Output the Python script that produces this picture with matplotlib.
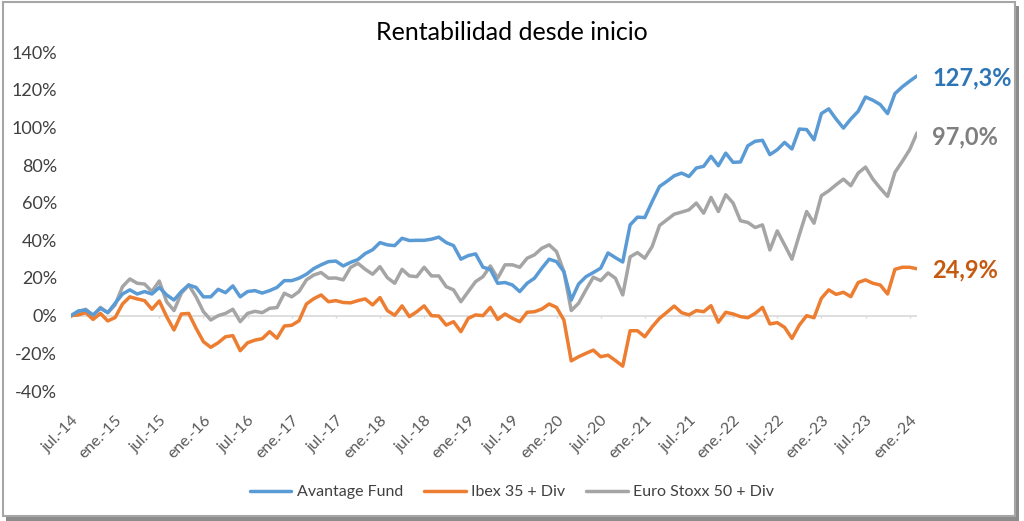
import matplotlib
matplotlib.use("Agg")
import matplotlib.pyplot as plt
from matplotlib.patches import Rectangle
import numpy as np

avantage = [0, 2.5, 3, 0.4, 3.9, 1.6, 6.6, 11.5, 13.7, 11.5, 12.8, 11.5, 15, 11, 8.3, 12.8,
            16.3, 15, 10, 10, 14, 12.2, 15.8, 10, 12.8, 13.3, 12, 13.3, 15, 18.6, 18.6, 19.9,
            22, 25, 27, 28.7, 29, 26.4, 28.3, 29.8,
            33, 35, 38.8, 37.6, 37.2, 41.1, 39.9, 40, 40, 40.6, 41.7, 38.8, 37.2, 30, 31.9, 32.8,
            25.7, 24.6, 17.2, 17.6, 16.3, 12.8, 17.2, 19.9, 25.2, 30, 28.7, 23.4, 8.3, 16.8,
            20.7, 22.9, 25.2, 33.3, 30.8, 28.5,
            48.2, 52.3, 52.1, 60.6, 68.6, 71.3, 74.3, 75.7, 73.9, 78.4, 79.3, 84.6, 79.6, 86.3,
            81.4, 81.6, 90.2, 92.6, 93.1, 85.5, 88.1, 92, 88.5, 99.1, 98.8, 93.4, 107.3, 109.8,
            104.4, 99.6, 104.4, 108.5, 116.1, 114.4, 112.1, 107.3, 117.9, 121.5, 124.5, 127.3]

ibex = [0, 0.4, 1.6, -2, 1.2, -2.8, -1, 6.2, 10, 8.9, 8, 3.4, 7.8, -0.5, -7.6, 0.9,
        1.2, -6.7, -13.8, -16.8, -14.4, -11.2, -10.6, -18.6, -14.4, -13, -12.2, -8.5, -12, -5.5,
        -5.1, -2.7, 6.2, 9, 11, 7.4, 8, 7, 6.8, 8,
        8.9, 5.7, 9.6, 2.7, 0.2, 5.2, -0.5, 2.1, 5.2, 0, -0.2, -5, -3.2, -8.5, -1.4, 0.4,
        0, 4.4, -2, 0.9, -1.4, -3.2, 1.8, 2.1, 3.5, 6.2, 4.4, -2.3, -24, -21.8, -20, -18.3,
        -21.8, -21, -23.8, -26.8,
        -8, -8, -11.2, -5.9, -1.4, 1.8, 5.1, 1.6, 0.4, 2.7, 2.1, 5.3, -3.5, 1.8, 0.9, -0.5,
        -1.1, 1.2, 4.4, -4.4, -3.7, -6.2, -12.1, -5, 0, -1.1, 9.2, 13.7, 11.3, 12.4, 10.1,
        17.6, 19, 17.2, 16.3, 11.5, 24.6, 25.7, 25.7, 24.9]

eurostoxx = [0, 2.1, 3.4, 0, 4.4, 1.6, 5.7, 15.4, 19.5, 17.2, 16.8, 12.8, 18.4, 7.4, 2.7, 11.9,
             16.3, 10, 2.1, -2.3, 0, 1.2, 3.4, -3.2, 1.2, 2.3, 1.6, 3.9, 4.3, 11.9, 10, 12.8,
             19, 21.6, 22.9, 19.9, 20, 19, 25.6, 27.8,
             24.6, 22, 26, 20.2, 17.2, 24.6, 21.1, 20.7, 25.7, 21.1, 21.1, 15.4, 13.7, 7.4, 12.8,
             18.1, 20.7, 26.4, 19.9, 27, 27, 25.7, 30.5, 32.3, 35.8, 37.6, 34, 23.4, 2.7, 6.6,
             13.7, 20.4, 18.6, 22.7, 19.9, 11,
             31.2, 33.5, 30.5, 36.7, 47.9, 50.9, 53.9, 55, 56.2, 59.8, 54.4, 62.8, 55.3, 64.2,
             59.8, 50.4, 49.5, 46.8, 48.2, 34.9, 45, 37.6, 30, 42.9, 55.3, 49.1, 63.7, 66.3,
             69.5, 72.5, 69, 75.7, 78.9, 72.5, 67.7, 63.3, 76.1, 81.9, 88.1, 97.0]

tick_labels = ["jul.-14", "ene.-15", "jul.-15", "ene.-16", "jul.-16", "ene.-17", "jul.-17",
               "ene.-18", "jul.-18", "ene.-19", "jul.-19", "ene.-20", "jul.-20", "ene.-21",
               "jul.-21", "ene.-22", "jul.-22", "ene.-23", "jul.-23", "ene.-24"]
series_names = ["Avantage Fund", "Ibex 35 + Div", "Euro Stoxx 50 + Div"]
end_labels = ["127,3%", "24,9%", "97,0%"]

plt.rcParams['font.family'] = ['Lato', 'DejaVu Sans']

W, H = 1024, 521
fig = plt.figure(figsize=(W / 100, H / 100), dpi=100)
fig.patch.set_facecolor('white')

# frame with shadow
fig.patches.append(Rectangle((6 / W, 0 / H), 1013 / W, 515 / H, transform=fig.transFigure,
                             facecolor='#8c8c8c', edgecolor='none', zorder=0))
fig.patches.append(Rectangle((3 / W, 5 / H), 1012 / W, 514 / H, transform=fig.transFigure,
                             facecolor='white', edgecolor='#a6a6a6', lw=1.5, zorder=1))

ax = fig.add_axes([71 / W, (H - 391) / H, (917 - 71) / W, (391 - 52) / H])
ax.set_facecolor('none')
ax.set_zorder(2)

x = np.arange(len(avantage))
colors = ['#5B9BD5', '#ED7D31', '#A5A5A5']
label_colors = ['#2E75B6', '#C55A11', '#7F7F7F']
data = [avantage, ibex, eurostoxx]

ax.axhline(0, color='#d9d9d9', lw=1.2, zorder=1)
ticks_x = np.arange(0, len(x), 6)
ax.vlines(ticks_x, -1.4, 0, color='#d9d9d9', lw=1.0, zorder=1)

lines = []
for d, c, n in zip(data, colors, series_names):
    ln, = ax.plot(x, d, color=c, lw=2.5, solid_joinstyle='round', solid_capstyle='round',
                  label=n, zorder=3)
    lines.append(ln)
lines[2].set_zorder(3)
lines[1].set_zorder(4)
lines[0].set_zorder(5)

ax.set_xlim(0, len(x) - 1)
ax.set_ylim(-40, 140)
ax.set_yticks(np.arange(-40, 141, 20))
ax.set_yticklabels([f"{v}%" for v in range(-40, 141, 20)])
ax.set_xticks(ticks_x)
ax.set_xticklabels(tick_labels, rotation=45, ha='right', rotation_mode='anchor')
ax.tick_params(axis='x', length=0, pad=16, labelsize=11.5, labelcolor='#595959')
ax.tick_params(axis='y', length=0, pad=10, labelsize=13, labelcolor='#404040')
for s in ax.spines.values():
    s.set_visible(False)

fig.text(512 / W, 1 - 32 / H, "Rentabilidad desde inicio", ha='center', va='center',
         fontsize=18, color='#000000')

end_y = [78, 270, 137]
for lab, col, yy in zip(end_labels, label_colors, end_y):
    fig.text(932 / W, 1 - yy / H, lab, ha='left', va='center', fontsize=17,
             fontweight='bold', color=col)

fig.legend(handles=lines, labels=series_names, loc='center', bbox_to_anchor=(512 / W, 1 - 492 / H),
           ncol=3, frameon=False, fontsize=11.5, handlelength=2.6, columnspacing=1.3,
           handletextpad=0.35, labelcolor='#404040')

fig.savefig("out.png", dpi=100, facecolor='white')
